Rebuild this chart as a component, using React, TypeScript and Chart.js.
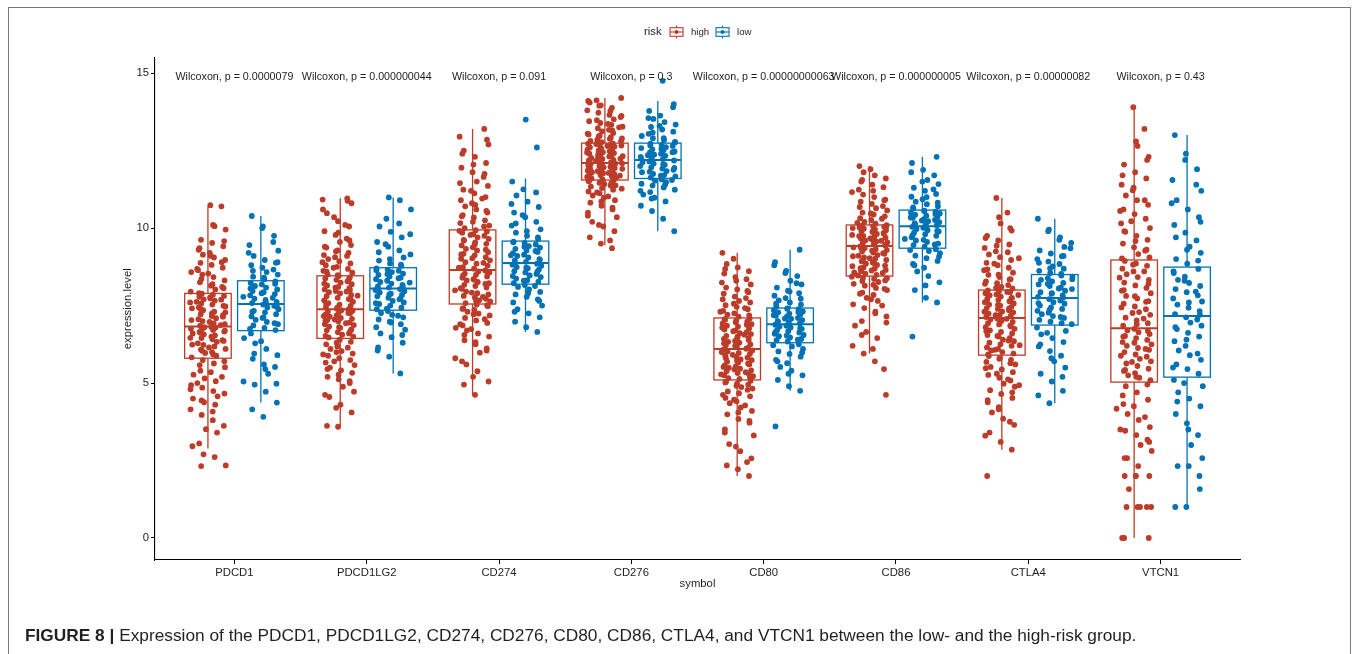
import { useEffect, useRef } from "react";
import { Chart, registerables } from "chart.js";

Chart.register(...registerables);

// ---------- data ----------
const categories = ["PDCD1", "PDCD1LG2", "CD274", "CD276", "CD80", "CD86", "CTLA4", "VTCN1"];
const groups = ["high", "low"];
const pLabels = [
  "Wilcoxon, p = 0.0000079",
  "Wilcoxon, p = 0.000000044",
  "Wilcoxon, p = 0.091",
  "Wilcoxon, p = 0.3",
  "Wilcoxon, p = 0.00000000063",
  "Wilcoxon, p = 0.000000005",
  "Wilcoxon, p = 0.00000082",
  "Wilcoxon, p = 0.43",
];
const pLabelY = 14.87;
const yTicks = [0, 5, 10, 15];

// box statistics
const highQ1 = [5.8, 6.44, 7.55, 11.55, 5.1, 8.45, 5.9, 5.03];
const highMed = [6.82, 7.38, 8.65, 12.1, 6.1, 9.42, 7.1, 6.77];
const highQ3 = [7.89, 8.46, 9.94, 12.74, 7.1, 10.1, 8.0, 8.97];
const highLo = [2.89, 3.59, 4.6, 9.45, 2.0, 5.95, 2.85, 0.0];
const highHi = [10.69, 10.96, 13.2, 14.2, 9.2, 12.0, 10.97, 13.9];
const lowQ1 = [6.69, 7.35, 8.19, 11.6, 6.3, 9.35, 6.87, 5.19];
const lowMed = [7.55, 8.05, 8.87, 12.2, 6.9, 10.06, 7.74, 7.16];
const lowQ3 = [8.3, 8.72, 9.58, 12.74, 7.42, 10.58, 8.5, 8.74];
const lowLo = [4.37, 5.31, 6.65, 9.9, 4.75, 7.6, 4.35, 0.97];
const lowHi = [10.39, 10.99, 11.6, 14.1, 9.3, 12.3, 10.3, 13.0];

// individual sample values (estimated from the jittered points)
const pdcd1High = [2.32, 2.34, 2.61, 2.7, 2.96, 3.4, 3.51, 3.8, 3.97, 4.15, 4.3, 4.38, 4.5, 4.57, 4.66, 4.74, 4.85, 4.93, 5.06, 5.15, 5.27, 5.4, 5.51, 5.63, 5.74,
  5.83, 5.88, 5.97, 6.0, 6.08, 6.1, 6.18, 6.23, 6.24, 6.33, 6.36, 6.41, 6.45, 6.46, 6.54, 6.57, 6.6, 6.65, 6.66, 6.71, 6.74, 6.75, 6.79, 6.8, 6.81,
  6.85, 6.9, 6.92, 7.0, 7.03, 7.09, 7.14, 7.16, 7.22, 7.28, 7.3, 7.35, 7.41, 7.44, 7.49, 7.53, 7.57, 7.6, 7.66, 7.7, 7.73, 7.78, 7.81, 7.85, 7.88,
  7.95, 8.02, 8.1, 8.14, 8.25, 8.31, 8.42, 8.5, 8.58, 8.64, 8.72, 8.81, 8.88, 8.97, 9.05, 9.14, 9.2, 9.3, 9.41, 9.52, 9.62, 9.95, 10.06, 10.7, 10.74,
  3.05, 3.62, 4.08, 4.44, 4.8, 5.0, 5.2, 5.35, 5.58, 5.7, 5.92, 6.04, 6.15, 6.28, 6.38, 6.5, 6.62, 6.69, 6.77, 6.87, 6.97, 7.06, 7.19, 7.25, 7.38,
  7.47, 7.62, 7.69, 7.76, 7.9, 8.06, 8.19, 8.36, 8.53, 8.68, 8.9, 9.1, 9.35, 9.58, 10.1];
const pdcd1Low = [3.91, 4.15, 4.37, 4.72, 4.95, 5.05, 5.3, 5.52, 5.6, 5.78, 5.9, 6.1, 6.28, 6.45, 6.6,
  6.71, 6.78, 6.86, 6.9, 6.97, 7.04, 7.1, 7.15, 7.22, 7.28, 7.33, 7.38, 7.44, 7.49, 7.53,
  7.58, 7.62, 7.68, 7.72, 7.78, 7.83, 7.87, 7.93, 7.97, 8.02, 8.08, 8.13, 8.18, 8.23, 8.28,
  8.35, 8.43, 8.5, 8.58, 8.66, 8.72, 8.8, 8.88, 8.97, 9.1, 9.27, 9.45, 9.75, 10.05, 10.39,
  4.98, 5.45, 5.95, 6.35, 6.75, 6.93, 7.12, 7.3, 7.46, 7.6, 7.75, 7.9, 8.05, 8.2, 8.4, 8.62, 8.9, 9.2, 9.55, 10.0];
const pdcd1lg2High = [3.59, 3.62, 4.05, 4.3, 4.55, 4.72, 4.88, 5.0, 5.12, 5.2, 5.33, 5.41, 5.5, 5.58, 5.66, 5.74, 5.8, 5.88, 5.95, 6.03, 6.1, 6.18, 6.25, 6.33, 6.4,
  6.47, 6.5, 6.56, 6.6, 6.64, 6.7, 6.73, 6.78, 6.82, 6.87, 6.9, 6.95, 6.99, 7.03, 7.07, 7.1, 7.14, 7.18, 7.21, 7.25, 7.28, 7.31, 7.33, 7.35, 7.37,
  7.4, 7.45, 7.49, 7.53, 7.58, 7.62, 7.67, 7.71, 7.75, 7.8, 7.84, 7.89, 7.93, 7.97, 8.02, 8.06, 8.1, 8.15, 8.19, 8.24, 8.28, 8.33, 8.37, 8.41, 8.45,
  8.5, 8.56, 8.62, 8.68, 8.75, 8.8, 8.86, 8.93, 9.0, 9.06, 9.13, 9.2, 9.28, 9.37, 9.45, 9.55, 9.66, 9.78, 9.9, 10.05, 10.22, 10.48, 10.8, 10.92, 10.96,
  4.2, 4.62, 5.06, 5.27, 5.45, 5.7, 5.92, 6.14, 6.3, 6.52, 6.67, 6.8, 6.93, 7.05, 7.16, 7.26, 7.43, 7.56, 7.69, 7.82,
  7.95, 8.08, 8.21, 8.35, 8.48, 8.59, 8.72, 8.9, 9.1, 9.25, 9.4, 9.6, 9.85, 10.1, 10.35, 10.6, 10.88, 6.0, 7.0, 8.0];
const pdcd1lg2Low = [5.31, 5.85, 6.15, 6.3, 6.48, 6.6, 6.72, 6.8, 6.9, 6.98, 7.05, 7.12, 7.2, 7.26, 7.32,
  7.38, 7.43, 7.5, 7.55, 7.6, 7.65, 7.7, 7.75, 7.8, 7.84, 7.88, 7.92, 7.96, 8.0, 8.03,
  8.08, 8.12, 8.17, 8.21, 8.26, 8.3, 8.35, 8.4, 8.44, 8.49, 8.53, 8.58, 8.62, 8.66, 8.7,
  8.78, 8.86, 8.95, 9.05, 9.15, 9.28, 9.4, 9.55, 9.7, 9.88, 10.05, 10.3, 10.6, 10.9, 10.99,
  6.05, 6.55, 6.95, 7.17, 7.4, 7.58, 7.72, 7.86, 7.99, 8.1, 8.24, 8.38, 8.51, 8.64, 8.82, 9.0, 9.22, 9.48, 9.8, 10.15];
const cd274High = [4.62, 4.95, 5.05, 5.38, 5.6, 5.8, 5.98, 6.12, 6.25, 6.38, 6.5, 6.6, 6.7, 6.78, 6.86, 6.94, 7.02, 7.1, 7.18, 7.24, 7.3, 7.36, 7.42, 7.48, 7.53,
  7.58, 7.63, 7.67, 7.72, 7.76, 7.81, 7.86, 7.9, 7.95, 7.99, 8.04, 8.08, 8.13, 8.17, 8.22, 8.26, 8.31, 8.35, 8.4, 8.44, 8.49, 8.53, 8.57, 8.6, 8.63,
  8.69, 8.74, 8.79, 8.85, 8.9, 8.96, 9.01, 9.06, 9.12, 9.17, 9.22, 9.28, 9.33, 9.38, 9.44, 9.49, 9.54, 9.6, 9.65, 9.7, 9.75, 9.8, 9.85, 9.89, 9.93,
  10.0, 10.08, 10.16, 10.25, 10.34, 10.42, 10.5, 10.6, 10.7, 10.8, 10.9, 11.0, 11.12, 11.24, 11.36, 11.5, 11.65, 11.8, 11.95, 12.1, 12.3, 12.5, 12.7, 12.95, 13.2,
  5.2, 5.7, 6.05, 6.32, 6.55, 6.74, 6.9, 7.06, 7.22, 7.39, 7.51, 7.65, 7.78, 7.92, 8.06, 8.2, 8.33, 8.47, 8.58, 8.72,
  8.88, 9.03, 9.15, 9.3, 9.47, 9.62, 9.78, 9.91, 10.05, 10.2, 10.38, 10.55, 10.75, 10.95, 11.2, 11.45, 11.75, 12.05, 12.4, 12.85];
const cd274Low = [6.65, 6.8, 6.98, 7.12, 7.25, 7.38, 7.5, 7.6, 7.7, 7.78, 7.86, 7.94, 8.02, 8.1, 8.16,
  8.22, 8.27, 8.32, 8.37, 8.42, 8.47, 8.52, 8.57, 8.61, 8.66, 8.7, 8.74, 8.78, 8.82, 8.85,
  8.91, 8.96, 9.0, 9.05, 9.1, 9.14, 9.19, 9.23, 9.28, 9.33, 9.37, 9.42, 9.47, 9.52, 9.56,
  9.65, 9.75, 9.85, 9.96, 10.08, 10.2, 10.35, 10.5, 10.68, 10.85, 11.05, 11.25, 11.5, 12.6, 13.5,
  7.3, 7.65, 7.9, 8.13, 8.3, 8.45, 8.59, 8.72, 8.84, 8.98, 9.12, 9.26, 9.4, 9.54, 9.7, 9.9, 10.15, 10.42, 10.78, 11.15];
const cd276High = [9.35, 9.5, 9.7, 9.9, 10.05, 10.2, 10.35, 10.5, 10.6, 10.72, 10.82, 10.9, 10.98, 11.05, 11.12, 11.18, 11.24, 11.29, 11.34, 11.38, 11.42, 11.45, 11.48, 11.51, 11.54,
  11.57, 11.6, 11.62, 11.65, 11.67, 11.7, 11.72, 11.75, 11.77, 11.8, 11.82, 11.85, 11.87, 11.89, 11.92, 11.94, 11.96, 11.98, 12.0, 12.02, 12.04, 12.06, 12.07, 12.08, 12.09,
  12.12, 12.15, 12.18, 12.2, 12.23, 12.26, 12.29, 12.32, 12.34, 12.37, 12.4, 12.42, 12.45, 12.48, 12.5, 12.53, 12.56, 12.58, 12.61, 12.63, 12.66, 12.68, 12.7, 12.72, 12.73,
  12.77, 12.81, 12.85, 12.89, 12.93, 12.98, 13.02, 13.07, 13.12, 13.17, 13.22, 13.27, 13.33, 13.39, 13.45, 13.51, 13.58, 13.65, 13.72, 13.8, 13.88, 13.96, 14.05, 14.12, 14.2,
  9.6, 10.1, 10.4, 10.66, 10.86, 11.02, 11.15, 11.27, 11.37, 11.46, 11.53, 11.63, 11.69, 11.78, 11.84, 11.91, 11.97, 12.03, 12.1, 12.17,
  12.24, 12.31, 12.38, 12.44, 12.52, 12.59, 12.65, 12.71, 12.8, 12.88, 12.96, 13.05, 13.15, 13.25, 13.36, 13.48, 13.62, 13.78, 13.95, 14.1];
const cd276Low = [9.9, 10.3, 10.55, 10.72, 10.86, 10.98, 11.08, 11.16, 11.24, 11.31, 11.37, 11.43, 11.48, 11.53, 11.57,
  11.63, 11.67, 11.71, 11.75, 11.8, 11.84, 11.88, 11.92, 11.96, 12.0, 12.04, 12.08, 12.12, 12.15, 12.18,
  12.23, 12.26, 12.3, 12.33, 12.37, 12.4, 12.44, 12.47, 12.51, 12.54, 12.58, 12.61, 12.65, 12.68, 12.72,
  12.78, 12.84, 12.9, 12.97, 13.04, 13.11, 13.18, 13.26, 13.34, 13.42, 13.52, 13.63, 13.78, 14.0, 14.75,
  10.95, 11.2, 11.4, 11.55, 11.69, 11.82, 11.94, 12.06, 12.16, 12.25, 12.35, 12.45, 12.56, 12.66, 12.76, 12.9, 13.08, 13.3, 13.55, 13.9];
const cd80High = [2.0, 2.22, 2.34, 2.57, 2.8, 3.03, 3.31, 3.5, 3.72, 3.84, 3.99, 4.1, 4.21, 4.35, 4.41, 4.52, 4.57, 4.67, 4.73, 4.82, 4.87, 4.95, 4.98, 5.04, 5.07,
  5.13, 5.16, 5.22, 5.25, 5.3, 5.32, 5.38, 5.41, 5.46, 5.49, 5.54, 5.57, 5.6, 5.66, 5.69, 5.74, 5.76, 5.82, 5.85, 5.88, 5.94, 5.97, 6.02, 6.05, 6.08,
  6.13, 6.16, 6.22, 6.25, 6.3, 6.33, 6.36, 6.42, 6.45, 6.5, 6.52, 6.58, 6.61, 6.64, 6.7, 6.73, 6.76, 6.82, 6.85, 6.9, 6.92, 6.98, 7.01, 7.04, 7.08,
  7.14, 7.21, 7.25, 7.33, 7.38, 7.46, 7.51, 7.6, 7.65, 7.74, 7.79, 7.88, 7.93, 8.02, 8.08, 8.18, 8.24, 8.35, 8.42, 8.53, 8.61, 8.73, 8.84, 9.01, 9.2,
  2.45, 2.95, 3.4, 3.78, 4.05, 4.28, 4.46, 4.62, 4.78, 4.91, 5.02, 5.19, 5.28, 5.35, 5.44, 5.52, 5.63, 5.72, 5.8, 5.91,
  6.0, 6.11, 6.2, 6.28, 6.39, 6.47, 6.56, 6.67, 6.79, 6.88, 6.96, 7.06, 7.18, 7.3, 7.42, 7.56, 7.7, 7.97, 8.3, 8.68];
const cd80Low = [3.6, 4.75, 4.9, 5.1, 5.25, 5.4, 5.52, 5.64, 5.75, 5.85, 5.94, 6.02, 6.1, 6.18, 6.25,
  6.34, 6.38, 6.42, 6.47, 6.51, 6.55, 6.59, 6.63, 6.67, 6.71, 6.75, 6.79, 6.82, 6.85, 6.88,
  6.93, 6.96, 7.0, 7.03, 7.07, 7.1, 7.14, 7.17, 7.21, 7.24, 7.28, 7.31, 7.35, 7.38, 7.41,
  7.47, 7.53, 7.6, 7.67, 7.74, 7.82, 7.9, 7.98, 8.08, 8.18, 8.3, 8.45, 8.62, 8.9, 9.3,
  5.3, 5.7, 5.98, 6.22, 6.4, 6.53, 6.65, 6.77, 6.87, 6.98, 7.08, 7.19, 7.29, 7.4, 7.56, 7.72, 7.95, 8.22, 8.55, 8.8];
const cd86High = [4.62, 5.7, 5.95, 6.2, 6.45, 6.65, 6.85, 7.0, 7.15, 7.3, 7.42, 7.54, 7.65, 7.75, 7.84, 7.92, 8.0, 8.07, 8.14, 8.2, 8.26, 8.31, 8.36, 8.4, 8.43,
  8.49, 8.53, 8.57, 8.61, 8.65, 8.69, 8.73, 8.77, 8.81, 8.85, 8.89, 8.93, 8.97, 9.01, 9.05, 9.09, 9.13, 9.17, 9.21, 9.25, 9.29, 9.32, 9.35, 9.38, 9.41,
  9.45, 9.48, 9.51, 9.54, 9.57, 9.6, 9.63, 9.66, 9.69, 9.72, 9.75, 9.78, 9.81, 9.84, 9.87, 9.9, 9.93, 9.96, 9.98, 10.0, 10.02, 10.04, 10.06, 10.08, 10.09,
  10.14, 10.2, 10.26, 10.32, 10.38, 10.44, 10.5, 10.57, 10.64, 10.71, 10.78, 10.85, 10.92, 11.0, 11.08, 11.16, 11.24, 11.32, 11.4, 11.5, 11.6, 11.7, 11.8, 11.9, 12.0,
  5.45, 6.1, 6.55, 6.95, 7.25, 7.5, 7.7, 7.88, 8.04, 8.17, 8.29, 8.38, 8.47, 8.55, 8.63, 8.71, 8.79, 8.87, 8.95, 9.03,
  9.11, 9.19, 9.27, 9.36, 9.44, 9.52, 9.59, 9.67, 9.74, 9.82, 9.89, 9.97, 10.05, 10.17, 10.3, 10.47, 10.68, 10.9, 11.2, 11.55];
const cd86Low = [6.5, 7.6, 7.75, 8.0, 8.25, 8.45, 8.6, 8.72, 8.84, 8.94, 9.03, 9.11, 9.19, 9.26, 9.32,
  9.4, 9.45, 9.5, 9.55, 9.6, 9.65, 9.7, 9.75, 9.8, 9.85, 9.89, 9.93, 9.97, 10.01, 10.04,
  10.09, 10.12, 10.15, 10.19, 10.22, 10.26, 10.29, 10.33, 10.36, 10.4, 10.43, 10.47, 10.5, 10.53, 10.56,
  10.63, 10.7, 10.77, 10.85, 10.93, 11.01, 11.1, 11.2, 11.3, 11.42, 11.55, 11.7, 11.88, 12.1, 12.3,
  8.15, 8.8, 9.08, 9.29, 9.47, 9.62, 9.77, 9.91, 10.03, 10.14, 10.24, 10.34, 10.45, 10.55, 10.67, 10.82, 11.0, 11.25, 11.5, 11.8];
const ctla4High = [2.0, 2.85, 3.1, 3.4, 3.65, 3.85, 4.05, 4.22, 4.38, 4.52, 4.65, 4.77, 4.88, 4.98, 5.08, 5.17, 5.26, 5.35, 5.44, 5.52, 5.6, 5.68, 5.75, 5.81, 5.87,
  5.95, 6.0, 6.05, 6.1, 6.15, 6.2, 6.25, 6.3, 6.35, 6.4, 6.45, 6.5, 6.55, 6.6, 6.65, 6.7, 6.75, 6.8, 6.85, 6.89, 6.93, 6.97, 7.01, 7.05, 7.08,
  7.13, 7.17, 7.2, 7.24, 7.28, 7.31, 7.35, 7.39, 7.42, 7.46, 7.5, 7.53, 7.57, 7.61, 7.64, 7.68, 7.72, 7.75, 7.79, 7.83, 7.86, 7.9, 7.93, 7.96, 7.99,
  8.05, 8.1, 8.16, 8.22, 8.28, 8.35, 8.42, 8.49, 8.56, 8.64, 8.72, 8.8, 8.88, 8.97, 9.06, 9.15, 9.25, 9.36, 9.47, 9.6, 9.75, 9.92, 10.15, 10.5, 10.97,
  3.3, 3.75, 4.15, 4.45, 4.7, 4.93, 5.12, 5.3, 5.48, 5.64, 5.78, 5.92, 6.07, 6.22, 6.37, 6.52, 6.67, 6.82, 6.95, 7.07,
  7.19, 7.3, 7.41, 7.52, 7.63, 7.74, 7.84, 7.94, 8.07, 8.2, 8.34, 8.5, 8.67, 8.85, 9.03, 9.22, 9.43, 9.68, 10.0, 10.35];
const ctla4Low = [4.35, 4.6, 4.75, 5.05, 5.3, 5.5, 5.7, 5.88, 6.03, 6.18, 6.32, 6.45, 6.57, 6.68, 6.79,
  6.93, 6.98, 7.04, 7.1, 7.16, 7.22, 7.27, 7.33, 7.39, 7.44, 7.5, 7.56, 7.61, 7.66, 7.71,
  7.78, 7.83, 7.88, 7.93, 7.98, 8.03, 8.08, 8.13, 8.18, 8.23, 8.28, 8.33, 8.38, 8.43, 8.47,
  8.55, 8.62, 8.69, 8.76, 8.84, 8.92, 9.0, 9.09, 9.18, 9.28, 9.39, 9.52, 9.7, 9.95, 10.3,
  5.2, 5.8, 6.25, 6.62, 6.9, 7.13, 7.36, 7.58, 7.75, 7.9, 8.05, 8.2, 8.35, 8.52, 8.7, 8.88, 9.1, 9.35, 9.62, 9.9];
const vtcn1High = [0, 0, 1.0, 1.0, 1.0, 1.0, 1.58, 2.0, 2.0, 2.0, 2.32, 2.58, 2.81, 3.0, 3.17, 3.32, 3.46, 3.58, 3.81, 4.0, 4.17, 4.32, 4.46, 4.7, 4.9,
  5.09, 5.17, 5.25, 5.32, 5.39, 5.46, 5.55, 5.63, 5.7, 5.78, 5.85, 5.92, 6.0, 6.07, 6.13, 6.2, 6.25, 6.32, 6.39, 6.45, 6.52, 6.58, 6.64, 6.7, 6.75,
  6.85, 6.93, 7.02, 7.11, 7.2, 7.29, 7.38, 7.47, 7.56, 7.64, 7.73, 7.81, 7.9, 7.98, 8.07, 8.15, 8.24, 8.33, 8.42, 8.51, 8.6, 8.69, 8.78, 8.86, 8.94,
  9.05, 9.16, 9.27, 9.38, 9.5, 9.62, 9.75, 9.88, 10.0, 10.15, 10.3, 10.45, 10.6, 10.75, 10.9, 11.05, 11.22, 11.4, 11.6, 11.8, 12.05, 12.3, 12.65, 13.2, 13.9,
  0, 1.0, 2.0, 2.58, 3.1, 3.5, 3.9, 4.25, 4.6, 4.95, 5.2, 5.42, 5.68, 5.88, 6.1, 6.3, 6.5, 6.68, 6.9, 7.08,
  7.26, 7.44, 7.62, 7.8, 8.0, 8.2, 8.4, 8.6, 8.82, 9.02, 9.3, 9.58, 9.9, 10.22, 10.55, 10.9, 11.3, 11.7, 12.2, 12.8];
const vtcn1Low = [1.0, 1.0, 1.58, 2.32, 2.32, 2.58, 3.0, 3.32, 3.7, 4.0, 4.25, 4.5, 4.7, 4.9, 5.1,
  5.3, 5.45, 5.6, 5.75, 5.9, 6.05, 6.2, 6.35, 6.5, 6.62, 6.74, 6.85, 6.95, 7.05, 7.12,
  7.22, 7.32, 7.43, 7.53, 7.63, 7.73, 7.83, 7.93, 8.03, 8.13, 8.23, 8.33, 8.43, 8.55, 8.68,
  8.85, 9.0, 9.2, 9.4, 9.6, 9.85, 10.1, 10.35, 10.6, 10.9, 11.2, 11.55, 11.9, 12.4, 13.0,
  2.0, 3.5, 4.4, 5.0, 5.5, 5.95, 6.4, 6.8, 7.2, 7.6, 7.95, 8.3, 8.6, 8.95, 9.3, 9.7, 10.2, 10.8, 11.4, 12.2];

const highValues = [pdcd1High, pdcd1lg2High, cd274High, cd276High, cd80High, cd86High, ctla4High, vtcn1High];
const lowValues = [pdcd1Low, pdcd1lg2Low, cd274Low, cd276Low, cd80Low, cd86Low, ctla4Low, vtcn1Low];

// ---------- styling ----------
const RED = "#BC3C29";
const BLUE = "#0072B5";
const FONT = "'Liberation Sans', Arial, Helvetica, sans-serif";
const TEXT = "#1e1e1e";
const DODGE = 0.2;
const BOX_HALF = 0.176;
const JITTER = 0.135;

function jitter(j: number, seed: number) {
  const f = (j * 0.6180339887 + seed + (j % 7) * 0.071) % 1;
  return (f - 0.5) * 2 * JITTER;
}

function buildPoints(values: number[][], side: number, seed: number) {
  const pts: { x: number; y: number }[] = [];
  values.forEach((arr, i) => {
    arr.forEach((v, j) => {
      pts.push({ x: i + 1 + side * DODGE + jitter(j, seed + i * 0.13), y: v });
    });
  });
  return pts;
}

const boxPlugin = {
  id: "boxes",
  beforeDatasetsDraw(chart: any) {
    const { ctx, scales } = chart;
    const xs = scales.x;
    const ys = scales.y;
    const sets = [
      { side: -1, color: RED, q1: highQ1, med: highMed, q3: highQ3, lo: highLo, hi: highHi },
      { side: 1, color: BLUE, q1: lowQ1, med: lowMed, q3: lowQ3, lo: lowLo, hi: lowHi },
    ];
    ctx.save();
    sets.forEach((s) => {
      categories.forEach((_, i) => {
        const c = i + 1 + s.side * DODGE;
        const xc = xs.getPixelForValue(c);
        const xl = xs.getPixelForValue(c - BOX_HALF);
        const xr = xs.getPixelForValue(c + BOX_HALF);
        const yq1 = ys.getPixelForValue(s.q1[i]);
        const yq3 = ys.getPixelForValue(s.q3[i]);
        const ym = ys.getPixelForValue(s.med[i]);
        const ylo = ys.getPixelForValue(s.lo[i]);
        const yhi = ys.getPixelForValue(s.hi[i]);
        ctx.strokeStyle = s.color;
        ctx.lineWidth = 1.3;
        ctx.beginPath();
        ctx.moveTo(xc, yq3);
        ctx.lineTo(xc, yhi);
        ctx.moveTo(xc, yq1);
        ctx.lineTo(xc, ylo);
        ctx.stroke();
        ctx.fillStyle = "#ffffff";
        ctx.fillRect(xl, yq3, xr - xl, yq1 - yq3);
        ctx.strokeRect(xl, yq3, xr - xl, yq1 - yq3);
        ctx.lineWidth = 2;
        ctx.beginPath();
        ctx.moveTo(xl, ym);
        ctx.lineTo(xr, ym);
        ctx.stroke();
      });
    });
    ctx.restore();
  },
  afterDraw(chart: any) {
    const { ctx, scales } = chart;
    const xs = scales.x;
    const ys = scales.y;
    ctx.save();
    // p-value labels
    ctx.fillStyle = TEXT;
    ctx.font = `10.7px ${FONT}`;
    ctx.textAlign = "center";
    ctx.textBaseline = "middle";
    pLabels.forEach((t, i) => {
      ctx.fillText(t, xs.getPixelForValue(i + 1), ys.getPixelForValue(pLabelY));
    });
    // legend
    const ly = 32;
    ctx.textAlign = "left";
    ctx.font = `11.3px ${FONT}`;
    ctx.fillText("risk", 644, ly);
    const drawKey = (cx: number, color: string) => {
      ctx.strokeStyle = color;
      ctx.fillStyle = "#ffffff";
      ctx.lineWidth = 1.1;
      ctx.beginPath();
      ctx.moveTo(cx, ly - 6.5);
      ctx.lineTo(cx, ly + 6.5);
      ctx.stroke();
      ctx.fillRect(cx - 6.5, ly - 4.3, 13, 8.6);
      ctx.strokeRect(cx - 6.5, ly - 4.3, 13, 8.6);
      ctx.beginPath();
      ctx.moveTo(cx - 6.5, ly);
      ctx.lineTo(cx + 6.5, ly);
      ctx.stroke();
      ctx.fillStyle = color;
      ctx.beginPath();
      ctx.arc(cx, ly, 2.1, 0, Math.PI * 2);
      ctx.fill();
    };
    drawKey(676.5, RED);
    drawKey(722.5, BLUE);
    ctx.fillStyle = TEXT;
    ctx.font = `9.6px ${FONT}`;
    ctx.fillText(groups[0], 691, ly);
    ctx.fillText(groups[1], 737, ly);
    ctx.restore();
  },
};

export default function App() {
  const canvasRef = useRef<HTMLCanvasElement | null>(null);

  useEffect(() => {
    const canvas = canvasRef.current;
    if (!canvas) return;
    const tickFont = { family: FONT, size: 11.3 };
    const chart = new Chart(canvas, {
      type: "scatter",
      data: {
        datasets: [
          {
            label: groups[0],
            data: buildPoints(highValues, -1, 0.31),
            backgroundColor: RED,
            borderWidth: 0,
            pointRadius: 2.9,
            pointHoverRadius: 2.9,
          },
          {
            label: groups[1],
            data: buildPoints(lowValues, 1, 0.57),
            backgroundColor: BLUE,
            borderWidth: 0,
            pointRadius: 2.9,
            pointHoverRadius: 2.9,
          },
        ],
      },
      options: {
        responsive: false,
        animation: false,
        events: [],
        layout: { padding: { left: 121, right: 115, top: 57.6, bottom: 63.4 } },
        plugins: { legend: { display: false }, tooltip: { enabled: false } },
        scales: {
          x: {
            type: "linear",
            min: 0.4,
            max: 8.6,
            afterBuildTicks: (s: any) => {
              s.ticks = categories.map((_, i) => ({ value: i + 1 }));
            },
            afterFit: (s: any) => {
              s.height = 30.6;
            },
            ticks: {
              autoSkip: false,
              maxRotation: 0,
              padding: 2,
              color: TEXT,
              font: tickFont,
              callback: (v: any) => categories[Math.round(Number(v)) - 1] ?? "",
            },
            grid: { display: true, drawOnChartArea: false, drawTicks: true, tickLength: 4, color: "#000" },
            border: { display: true, color: "#000", width: 1.1 },
            title: { display: true, text: "symbol", color: TEXT, font: tickFont, padding: { top: 0, bottom: 0 } },
          },
          y: {
            type: "linear",
            min: -0.71,
            max: 15.5,
            afterBuildTicks: (s: any) => {
              s.ticks = yTicks.map((v) => ({ value: v }));
            },
            afterFit: (s: any) => {
              s.width = 34;
            },
            ticks: { padding: 2, color: TEXT, font: tickFont },
            grid: { display: true, drawOnChartArea: false, drawTicks: true, tickLength: 4, color: "#000" },
            border: { display: true, color: "#000", width: 1.1 },
            title: { display: true, text: "expression.level", color: TEXT, font: tickFont, padding: { top: 0, bottom: 0 } },
          },
        },
      },
      plugins: [boxPlugin],
    } as any);
    return () => chart.destroy();
  }, []);

  return (
    <div style={{ position: "absolute", left: 0, top: 0, width: 1355, height: 654, overflow: "hidden", background: "#fff" }}>
      <div
        style={{
          position: "absolute",
          left: 8,
          top: 7,
          width: 1343,
          height: 647,
          boxSizing: "border-box",
          borderTop: "1.6px solid #7a7a7a",
          borderLeft: "1.6px solid #7a7a7a",
          borderRight: "1.6px solid #7a7a7a",
        }}
      />
      <canvas ref={canvasRef} width={1355} height={654} style={{ position: "absolute", left: 0, top: 0, width: 1355, height: 654 }} />
      <div
        style={{
          position: "absolute",
          left: 25,
          top: 625,
          fontFamily: FONT,
          fontSize: 17.3,
          lineHeight: "21px",
          color: "#231f20",
          whiteSpace: "nowrap",
        }}
      >
        <b>FIGURE 8 |</b> Expression of the PDCD1, PDCD1LG2, CD274, CD276, CD80, CD86, CTLA4, and VTCN1 between the low- and the high-risk group.
      </div>
    </div>
  );
}
